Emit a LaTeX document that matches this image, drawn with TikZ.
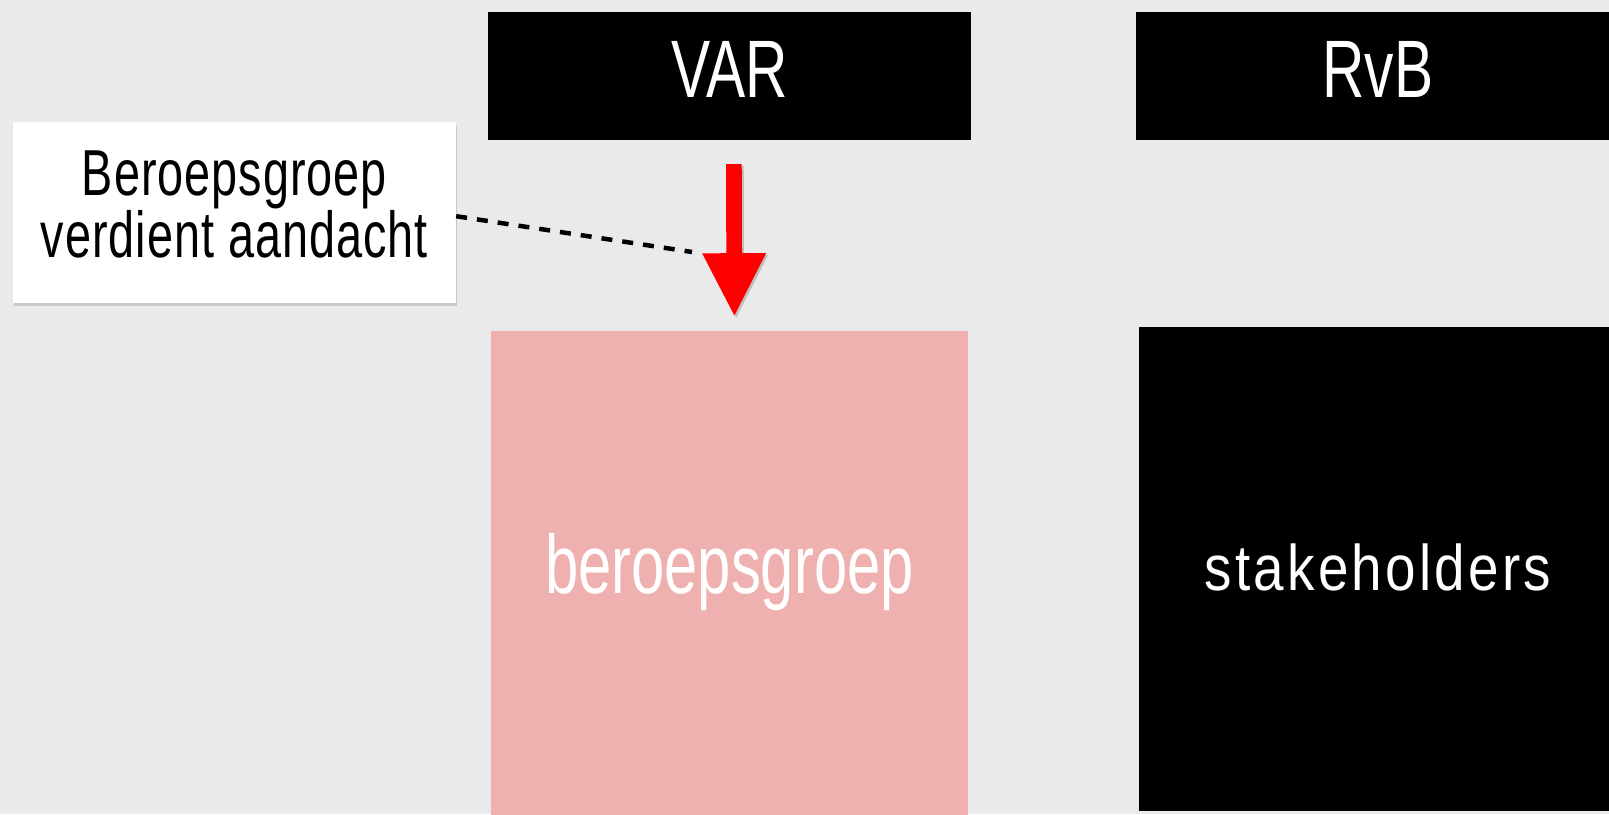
\documentclass[tikz,border=0pt]{standalone}
\usepackage{fontspec}
\setmainfont{Liberation Sans}[FakeStretch=0.72]
\newfontfamily\spacedfont{Liberation Sans}[FakeStretch=0.85,LetterSpace=5]
\newfontfamily\calloutfont{Liberation Sans}[FakeStretch=0.72,LetterSpace=1.5]
\usetikzlibrary{positioning}
\usetikzlibrary{arrows.meta}
\usetikzlibrary{shadows}
\definecolor{bggray}{HTML}{EAEAEA}
\definecolor{boxpink}{HTML}{EFB0B0}
\definecolor{signalred}{HTML}{FF0000}

\begin{document}
\begin{tikzpicture}[x=1pt,y=-1pt,inner sep=0pt,
    headbox/.style={fill=black,text=white,minimum width=483pt,minimum height=128pt,
      font=\fontsize{81.5}{90}\selectfont,text height=58.4pt,text depth=15.6pt},
    groupbox/.style={text=white,minimum width=477.5pt,minimum height=484pt},
    signalarrow/.style={draw=signalred,line width=15.7pt,
      -{Triangle[width=64pt,length=62.3pt,line width=0pt]},shorten <=23.7pt,shorten >=15pt},
    arrowshadow/.style={signalarrow,draw=black,opacity=.18,transform canvas={xshift=2pt,yshift=-2pt}},
    hintline/.style={draw=black,line width=4.5pt,dash pattern=on 11pt off 10pt}]
  \fill[bggray] (0,0) rectangle (1609,814);
  \useasboundingbox (0,0) rectangle (1609,814);

  \node (var)    [headbox] at (729.4,76.3) {VAR};
  \node (rvb)    [headbox,right=165pt of var] {RvB};
  \node (beroep) [groupbox,fill=boxpink,below=190pt of var,
                  font=\fontsize{83}{90}\selectfont,text height=60pt,text depth=18pt] {beroepsgroep};
  \node (stake)  [groupbox,fill=black,below=186.4pt of rvb,
                  font=\spacedfont\fontsize{64.5}{70}\selectfont,text height=47pt,text depth=4.4pt] {stakeholders};
  \node (callout) [fill=white,minimum width=443.3pt,minimum height=181pt,align=center,
                   drop shadow={opacity=.3,shadow xshift=1.5pt,shadow yshift=-3pt},
                   font=\calloutfont\fontsize{65}{61.6}\selectfont] at (234.3,212.2)
                  {Beroepsgroep\\verdient aandacht\rule[-16pt]{0pt}{16pt}};
  \coordinate (headleft) at (692,252);

  \draw[arrowshadow] ([xshift=4.4pt]var.south) -- ([xshift=5pt]beroep.north);
  \draw[signalarrow] ([xshift=4.4pt]var.south) -- ([xshift=5pt]beroep.north);
  \draw[hintline] ([yshift=-4pt]callout.east) -- (headleft);
\end{tikzpicture}
\end{document}
